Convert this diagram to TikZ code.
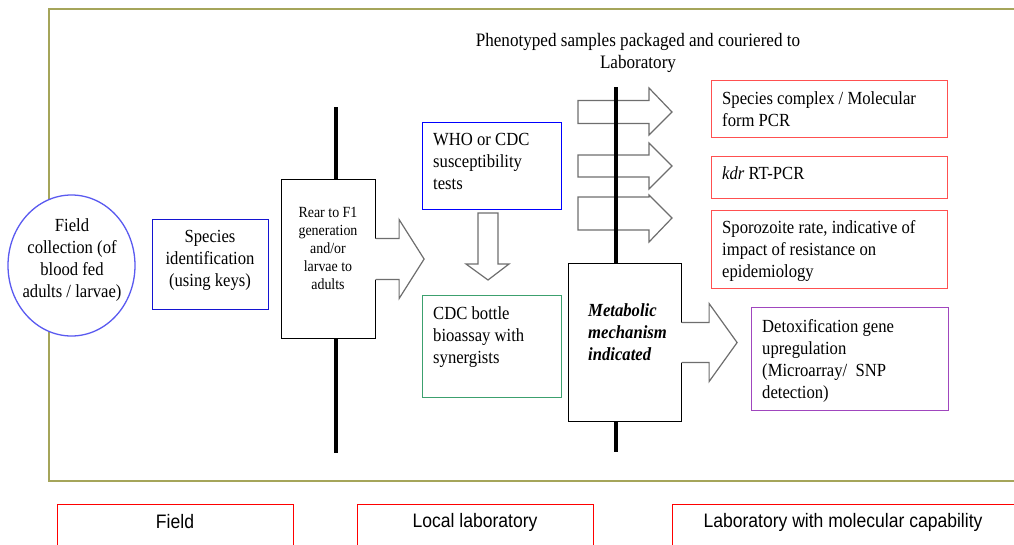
\documentclass[tikz,border=0pt]{standalone}
\usepackage{fontspec}
\setmainfont{Liberation Serif}[FakeStretch=0.9]
\newfontfamily\labelfont{Liberation Sans}[FakeStretch=0.9]
\usetikzlibrary{calc,shapes.geometric}

\definecolor{frameol}{RGB}{165,165,90}
\definecolor{ellblue}{RGB}{90,90,240}
\definecolor{spblue}{RGB}{20,20,210}
\definecolor{whoblue}{RGB}{0,0,255}
\definecolor{cdcgreen}{RGB}{60,160,110}
\definecolor{molred}{RGB}{255,80,80}
\definecolor{detoxpurple}{RGB}{160,70,190}
\definecolor{arrowgray}{RGB}{110,110,110}
\definecolor{labred}{RGB}{255,0,0}

\begin{document}
\begin{tikzpicture}[x=1pt,y=-1pt,
  boxline/.style={line width=1.3pt},
  rectbox/.style={boxline, fill=white, inner sep=0pt, anchor=north west},
  txt/.style={inner sep=0pt, font=\fontsize{18.5}{22}\selectfont, align=left, anchor=north west},
  ctxt/.style={inner sep=0pt, font=\fontsize{18.5}{22}\selectfont, align=center},
  labtxt/.style={inner sep=0pt, font=\labelfont\fontsize{19.5}{22}\selectfont},
  axis/.style={line width=4.2pt, black},
  blockarrow/.style={draw=arrowgray, line width=1.2pt, fill=white, line join=miter},
  arrowline/.style={draw=arrowgray, line width=1.2pt, line join=miter}
]
\useasboundingbox (0,0) rectangle (1014,544);

% outer frame
\draw[frameol, line width=1.5pt] (49,9) rectangle (1040,481);

% field collection
\node[draw=ellblue, fill=white, boxline, ellipse, minimum width=127pt, minimum height=141pt, inner sep=0pt] (field) at (71.5,265.5) {};
\node[ctxt] (fieldtext) at (72,260) {Field\\collection (of\\blood fed\\adults / larvae)};

% species identification
\node[rectbox, draw=spblue, minimum width=116pt, minimum height=90pt] (species) at (152,219) {};
\node[ctxt] (speciestext) at (210,260) {Species\\identification\\(using keys)};

% axis lines
\coordinate (a1top) at (336,107);
\coordinate (a1bot) at (336,453);
\coordinate (a2top) at (616,87);
\coordinate (a2bot) at (616,452);
\draw[axis] (a1top) -- (a1bot);

% rear box
\node[rectbox, draw=black, line width=1.1pt, minimum width=94pt, minimum height=159pt] (rear) at (281,179) {};
\node[inner sep=0pt, font=\fontsize{15.5}{18}\selectfont, align=center] (reartext) at (328,248) {Rear to F1\\generation\\and/or\\larvae to\\adults};
\begin{scope}[shift={(rear.east)}]
  \fill[white] (-2,-20.5) -- (23,-20.5) -- (23,-39.5) -- (48,0) -- (23,39.5) -- (23,20.5) -- (-2,20.5) -- cycle;
  \draw[arrowline] (0,-20.5) -- (23,-20.5) -- (23,-39.5) -- (48,0) -- (23,39.5) -- (23,20.5) -- (0,20.5);
\end{scope}

% header
\node[ctxt, anchor=north, font=\fontsize{19}{22}\selectfont] (header) at (638,33) {Phenotyped samples packaged and couriered to\\Laboratory};

% WHO / CDC
\node[rectbox, draw=whoblue, minimum width=139pt, minimum height=87pt] (who) at (422,122) {};
\node[txt] (whotext) at (433,133) {WHO or CDC\\susceptibility\\tests};
\node[rectbox, draw=cdcgreen, minimum width=139pt, minimum height=102pt] (cdc) at (422,295) {};
\node[txt] (cdctext) at (433,306) {CDC bottle\\bioassay with\\synergists};
\draw[blockarrow] (478,213) -- (498,213) -- (498,264) -- (509,264) -- (488,280) -- (466,264) -- (478,264) -- cycle;

% right arrows from axis 2
\draw[blockarrow] (578,100.5) -- (649,100.5) -- (649,88) -- (672,112) -- (649,135) -- (649,123.5) -- (578,123.5) -- cycle;
\draw[blockarrow] (578,155) -- (649,155) -- (649,143) -- (672,166) -- (649,189) -- (649,177) -- (578,177) -- cycle;
\draw[blockarrow] (578,197) -- (649,197) -- (649,195) -- (672,218) -- (649,242) -- (649,230) -- (578,230) -- cycle;
\draw[axis] (a2top) -- (a2bot);

% molecular boxes
\node[rectbox, draw=molred, minimum width=236pt, minimum height=57pt] (pcr) at (711,80) {};
\node[txt] (pcrtext) at (722,91) {Species complex / Molecular\\form PCR};
\node[rectbox, draw=molred, minimum width=236pt, minimum height=42pt] (kdr) at (711,156) {};
\node[txt] (kdrtext) at (722,166) {\textit{kdr} RT-PCR};
\node[rectbox, draw=molred, minimum width=236pt, minimum height=78pt] (sporo) at (711,210) {};
\node[txt] (sporotext) at (722,220) {Sporozoite rate, indicative of\\impact of resistance on\\epidemiology};

% metabolic
\node[rectbox, draw=black, line width=1.1pt, minimum width=113pt, minimum height=158pt] (metab) at (568,263) {};
\node[txt, font=\fontsize{18.5}{22}\selectfont\bfseries\itshape] (metabtext) at (588,303) {Metabolic\\mechanism\\indicated};
\begin{scope}[shift={(metab.east)}]
  \fill[white] (-2,-20) -- (27,-20) -- (27,-39) -- (55,0) -- (27,39) -- (27,20) -- (-2,20) -- cycle;
  \draw[arrowline] (0,-20) -- (27,-20) -- (27,-39) -- (55,0) -- (27,39) -- (27,20) -- (0,20);
\end{scope}

\node[rectbox, draw=detoxpurple, minimum width=197pt, minimum height=103pt] (detox) at (751,307) {};
\node[txt] (detoxtext) at (762,319) {Detoxification gene\\upregulation\\(Microarray/\ \ SNP\\detection)};

% bottom labels
\node[rectbox, draw=labred, line width=1.2pt, minimum width=236pt, minimum height=60pt] (labfield) at (57,504) {};
\node[labtxt] at (175,522) {Field};
\node[rectbox, draw=labred, line width=1.2pt, minimum width=236pt, minimum height=60pt] (labloc) at (357,504) {};
\node[labtxt] at (475,522) {Local laboratory};
\node[rectbox, draw=labred, line width=1.2pt, minimum width=400pt, minimum height=60pt] (labmol) at (672,504) {};
\node[labtxt] at (843,522) {Laboratory with molecular capability};
\end{tikzpicture}
\end{document}
